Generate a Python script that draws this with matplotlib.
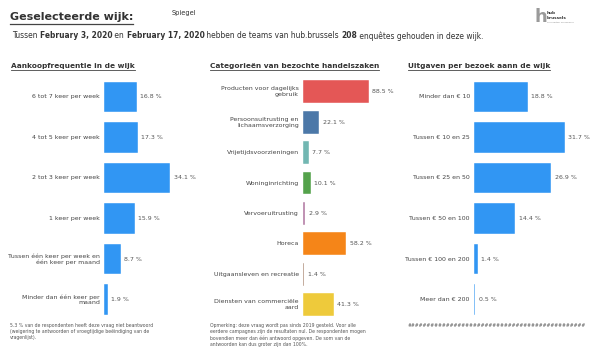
import matplotlib
matplotlib.use("Agg")
import matplotlib.pyplot as plt
from matplotlib.lines import Line2D

W, H = 605, 364

# data
freq_labels = ["6 tot 7 keer per week", "4 tot 5 keer per week", "2 tot 3 keer per week",
               "1 keer per week", "Tussen één keer per week en\néén keer per maand",
               "Minder dan één keer per\nmaand"]
freq_values = [16.8, 17.3, 34.1, 15.9, 8.7, 1.9]

cat_labels = ["Producten voor dagelijks\ngebruik", "Persoonsuitrusting en\nlichaamsverzorging",
              "Vrijetijdsvoorzieningen", "Woninginrichting", "Vervoeruitrusting", "Horeca",
              "Uitgaansleven en recreatie", "Diensten van commerciële\naard"]
cat_values = [88.5, 22.1, 7.7, 10.1, 2.9, 58.2, 1.4, 41.3]
cat_colors = ["#e45756", "#4c78a8", "#72b7b2", "#54a24b", "#b279a2", "#f58518", "#9d755d", "#eeca3b"]

spend_labels = ["Minder dan € 10", "Tussen € 10 en 25", "Tussen € 25 en 50",
                "Tussen € 50 en 100", "Tussen € 100 en 200", "Meer dan € 200"]
spend_values = [18.8, 31.7, 26.9, 14.4, 1.4, 0.5]

BLUE = "#3196f3"

fig = plt.figure(figsize=(W / 100, H / 100), dpi=100)
renderer = fig.canvas.get_renderer()


def fx(px):
    return px / W


def fy(py):
    return 1 - py / H


def underline(t, gap=2.0, lw=0.8, color="#444444"):
    bb = t.get_window_extent(renderer)
    y = (bb.y0 - gap) / H
    fig.add_artist(Line2D([bb.x0 / W, bb.x1 / W], [y, y], transform=fig.transFigure,
                          color=color, lw=lw))


# header
t = fig.text(fx(10), fy(17), "Geselecteerde wijk:", fontsize=8, fontweight="bold",
             color="#333333", va="center")
underline(t, gap=1.5, lw=0.9)
fig.text(fx(172), fy(13), "Spiegel", fontsize=4.8, color="#333333", va="center")

# logo
fig.text(fx(534), fy(17), "h", fontsize=13, fontweight="bold", color="#9a9a9a", va="center")
fig.text(fx(547), fy(13.5), "hub", fontsize=3, fontweight="bold", color="#333333", va="center")
fig.text(fx(547), fy(18), "brussels", fontsize=3, fontweight="bold", color="#333333", va="center")
fig.text(fx(547), fy(22), "your partner for business", fontsize=1.5, color="#888888", va="center")

# subtitle with bold parts
parts = [("Tussen ", "normal"), ("February 3, 2020", "bold"), (" en ", "normal"),
         ("February 17, 2020", "bold"), (" hebben de teams van hub.brussels ", "normal"),
         ("208", "bold"), (" enquêtes gehouden in deze wijk.", "normal")]
x = 12
for s, w in parts:
    tt = fig.text(fx(x), fy(36), s, fontsize=5.45, fontweight=w, color="#333333", va="center")
    x += tt.get_window_extent(renderer).width


def panel(left, width, xmax, labels, values, colors, title, title_x):
    top, bottom = 76.5, 320
    ax = fig.add_axes([fx(left), fy(bottom), fx(width), (bottom - top) / H])
    ys = list(range(len(values)))
    ax.barh(ys, values, height=0.75, color=colors, edgecolor="white", linewidth=0.3)
    ax.set_xlim(0, xmax)
    ax.set_ylim(len(values) - 0.5, -0.5)
    for y, v, lab in zip(ys, values, labels):
        ax.annotate(f"{v} %", (v, y), xytext=(2.5, 0), textcoords="offset points",
                    fontsize=4.5, color="#555555", va="center", ha="left")
        ax.annotate(lab, (0, y), xytext=(-3, 0), textcoords="offset points",
                    fontsize=4.5, color="#444444", va="center", ha="right",
                    multialignment="right", annotation_clip=False)
    ax.axis("off")
    tt = fig.text(fx(title_x), fy(66), title, fontsize=5.3, fontweight="bold",
                  color="#333333", va="center")
    underline(tt, gap=1.2, lw=0.6)


panel(104, 96, 96 / 1.94, freq_labels, freq_values, BLUE,
      "Aankoopfrequentie in de wijk", 11)
panel(303, 96, 96 / 0.746, cat_labels, cat_values, cat_colors,
      "Categorieën van bezochte handelszaken", 210)
panel(474, 96, 96 / 2.87, spend_labels, spend_values, BLUE,
      "Uitgaven per bezoek aann de wijk", 408)

# footnotes
fig.text(fx(10), fy(323), "5.3 % van de respondenten heeft deze vraag niet beantwoord\n"
         "(weigering te antwoorden of vroegtijdige beëindiging van de\nvragenlijst).",
         fontsize=3.35, color="#555555", va="top", linespacing=1.3)
fig.text(fx(210), fy(323), "Opmerking: deze vraag wordt pas sinds 2019 gesteld. Voor alle\n"
         "eerdere campagnes zijn de resultaten nul. De respondenten mogen\n"
         "bovendien meer dan één antwoord opgeven. De som van de\n"
         "antwoorden kan dus groter zijn dan 100%.",
         fontsize=3.35, color="#555555", va="top", linespacing=1.3)
fig.text(fx(408), fy(323), "#" * 46, fontsize=3.35, color="#555555", va="top")

fig.savefig("out.png", dpi=100)
